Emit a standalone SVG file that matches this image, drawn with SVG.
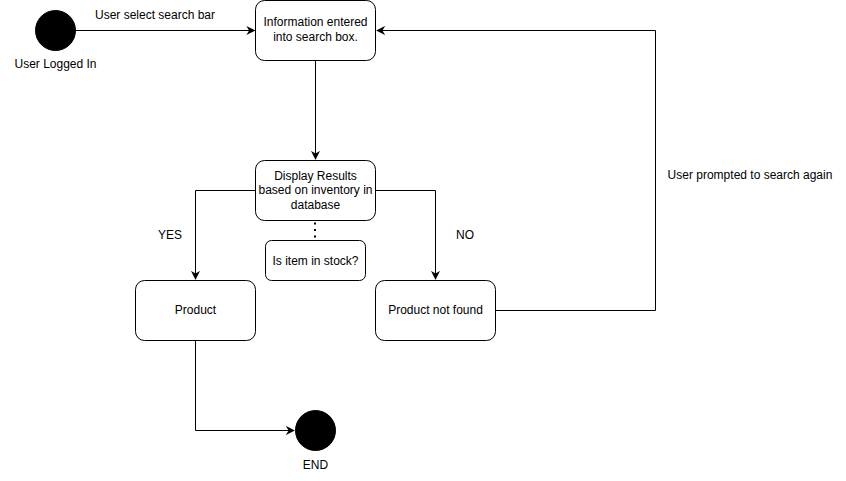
<svg xmlns="http://www.w3.org/2000/svg" width="846" height="481" viewBox="0 0 846 481">
  <defs>
    <marker id="arrow" viewBox="0 0 10 10" refX="9" refY="5" markerWidth="9" markerHeight="9" markerUnits="userSpaceOnUse" orient="auto">
      <path d="M0,0 L10,5 L0,10 L3,5 Z" fill="#000"/>
    </marker>
  </defs>
  <style>
    text { font-family: "Liberation Sans", Arial, Helvetica, sans-serif; font-size: 12px; fill: #000; text-anchor: middle; }
    .box { fill: #fff; stroke: #000; stroke-width: 1; }
    .dot { fill: #000; stroke: #000; }
    .edge { fill: none; stroke: #000; stroke-width: 1; }
    .arrow { marker-end: url(#arrow); }
    .dotted { stroke-width: 2; stroke-dasharray: 2 4.5; }
  </style>
  <rect width="846" height="481" fill="#fff"/>

  <g id="connectors">
    <path class="edge arrow" d="M75.5,30.5 H254.5"/>
    <path class="edge arrow" d="M315.5,60.5 V159"/>
    <path class="edge arrow" d="M255.5,190.5 H195.5 V279"/>
    <path class="edge arrow" d="M375.5,190.5 H435.5 V279"/>
    <path class="edge dotted" d="M315,222.5 V240"/>
    <path class="edge arrow" d="M495.5,310.5 H655.5 V30.5 H377"/>
    <path class="edge arrow" d="M195.5,340.5 V430.5 H294"/>
    <text x="155" y="19">User select search bar</text>
    <text x="170" y="239">YES</text>
    <text x="465" y="239">NO</text>
    <text x="750" y="179">User prompted to search again</text>
  </g>

  <g id="start">
    <circle class="dot" cx="55.5" cy="30.5" r="20"/>
    <text x="55.5" y="68">User Logged In</text>
  </g>

  <g id="search-box">
    <rect class="box" x="255.5" y="0.5" width="120" height="60" rx="9"/>
    <text x="315.5" y="26">Information entered</text>
    <text x="315.5" y="41">into search box.</text>
  </g>

  <g id="display-results">
    <rect class="box" x="255.5" y="160.5" width="120" height="60" rx="9"/>
    <text x="315.5" y="180">Display Results</text>
    <text x="315.5" y="194">based on inventory in</text>
    <text x="315.5" y="209">database</text>
  </g>

  <g id="stock-note">
    <rect class="box" x="265.5" y="240.5" width="100" height="40" rx="6"/>
    <text x="315.5" y="264.5">Is item in stock?</text>
  </g>

  <g id="product">
    <rect class="box" x="135.5" y="280.5" width="120" height="60" rx="9"/>
    <text x="195.5" y="314">Product</text>
  </g>

  <g id="not-found">
    <rect class="box" x="375.5" y="280.5" width="120" height="60" rx="9"/>
    <text x="435.5" y="314">Product not found</text>
  </g>

  <g id="end">
    <circle class="dot" cx="315.5" cy="430.5" r="20"/>
    <text x="315.5" y="469">END</text>
  </g>
</svg>
